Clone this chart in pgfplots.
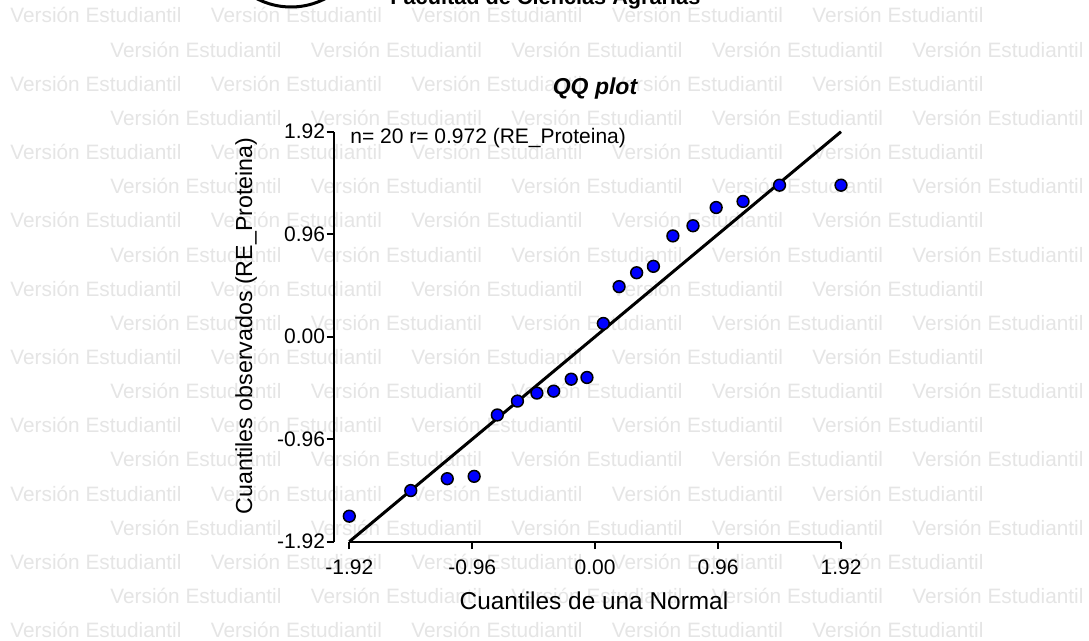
\documentclass[border=0pt]{standalone}
\usepackage{fontspec}
\setmainfont{Liberation Sans}
\usepackage{pgfplots}
\pgfplotsset{compat=1.18}
\definecolor{wm}{RGB}{229,229,229}
\definecolor{mblue}{RGB}{0,0,255}
\begin{document}
\begin{tikzpicture}
\clip (0,0) rectangle (544.5pt,-320.5pt);
\fill[white] (0,0) rectangle (544.5pt,-320.5pt);
\begin{scope}[x=0.5pt,y=-0.5pt]
  % watermark
  \foreach \k in {0,...,18}{
    \pgfmathsetmacro{\yy}{23+34.15*\k}
    \pgfmathtruncatemacro{\odd}{mod(\k,2)}
    \pgfmathsetmacro{\xs}{\odd==1 ? 110 : 10}
    \foreach \j in {0,...,4}{
      \node[anchor=base west, inner sep=0pt, text=wm, font=\fontsize{10.4}{12}\selectfont]
        at ({\xs+200.5*\j},\yy) {Versión Estudiantil};
    }
  }
  % logo fragment and header
  \draw[line width=1.5pt] (291,-67) circle (74);
  \node[anchor=base west, inner sep=0pt, font=\fontsize{10.85}{12}\selectfont\bfseries] at (390,5) {Facultad de Ciencias Agrarias};
  % titles and labels
  \node[anchor=base, inner sep=0pt, font=\fontsize{11.5}{13}\selectfont\bfseries\itshape] at (595,95) {QQ plot};
  \node[anchor=base, inner sep=0pt, font=\fontsize{12.2}{14}\selectfont] at (594,610) {Cuantiles de una Normal};
  \node[anchor=base, inner sep=0pt, rotate=90, font=\fontsize{11.6}{14}\selectfont] at (252,326) {Cuantiles observados (RE\_Proteina)};
  \node[anchor=base west, inner sep=0pt, font=\fontsize{10.5}{12}\selectfont] at (350,143.3) {n= 20 r= 0.972 (RE\_Proteina)};
\end{scope}
\begin{axis}[
  at={(167pt,-270.85pt)}, anchor=south west,
  x=64.025pt, y=53.385pt,
  xmin=-2.0395, xmax=1.98, ymin=-1.92, ymax=1.92,
  clip=false,
  axis x line*=bottom, axis y line*=left,
  axis line style={draw=none},
  tick align=outside,
  major tick length=3.75pt,
  tick style={black, line width=1pt},
  xtick={-1.92,-0.96,0,0.96,1.92},
  xticklabels={-1.92,-0.96,0.00,0.96,1.92},
  ytick={-1.92,-0.96,0,0.96,1.92},
  yticklabels={-1.92,-0.96,0.00,0.96,1.92},
  x tick label style={font=\fontsize{10.5}{12}\selectfont, anchor=north, inner sep=0pt, yshift=-5pt},
  y tick label style={font=\fontsize{10.5}{12}\selectfont, anchor=east, inner sep=0pt, xshift=-0.5pt},
  /pgf/number format/assume math mode=true,
]
\draw[line width=1pt] (axis cs:-1.92,-1.92) -- (axis cs:1.92,-1.92);
\draw[line width=1pt] (axis cs:-2.0395,-1.92) -- (axis cs:-2.0395,1.92);
\addplot[black, line width=1.5pt] coordinates {(-1.92,-1.92) (1.92,1.92)};
\addplot[only marks, mark=*, mark size=2.95pt, mark options={fill=mblue, draw=black, line width=0.75pt}] coordinates {
(-1.920,-1.681)
(-1.440,-1.441)
(-1.155,-1.330)
(-0.945,-1.308)
(-0.764,-0.733)
(-0.607,-0.603)
(-0.455,-0.528)
(-0.324,-0.510)
(-0.187,-0.398)
(-0.064,-0.382)
(0.064,0.124)
(0.187,0.469)
(0.324,0.599)
(0.455,0.659)
(0.607,0.944)
(0.764,1.039)
(0.945,1.210)
(1.155,1.267)
(1.440,1.419)
(1.920,1.419)
};
\end{axis}
\end{tikzpicture}
\end{document}
